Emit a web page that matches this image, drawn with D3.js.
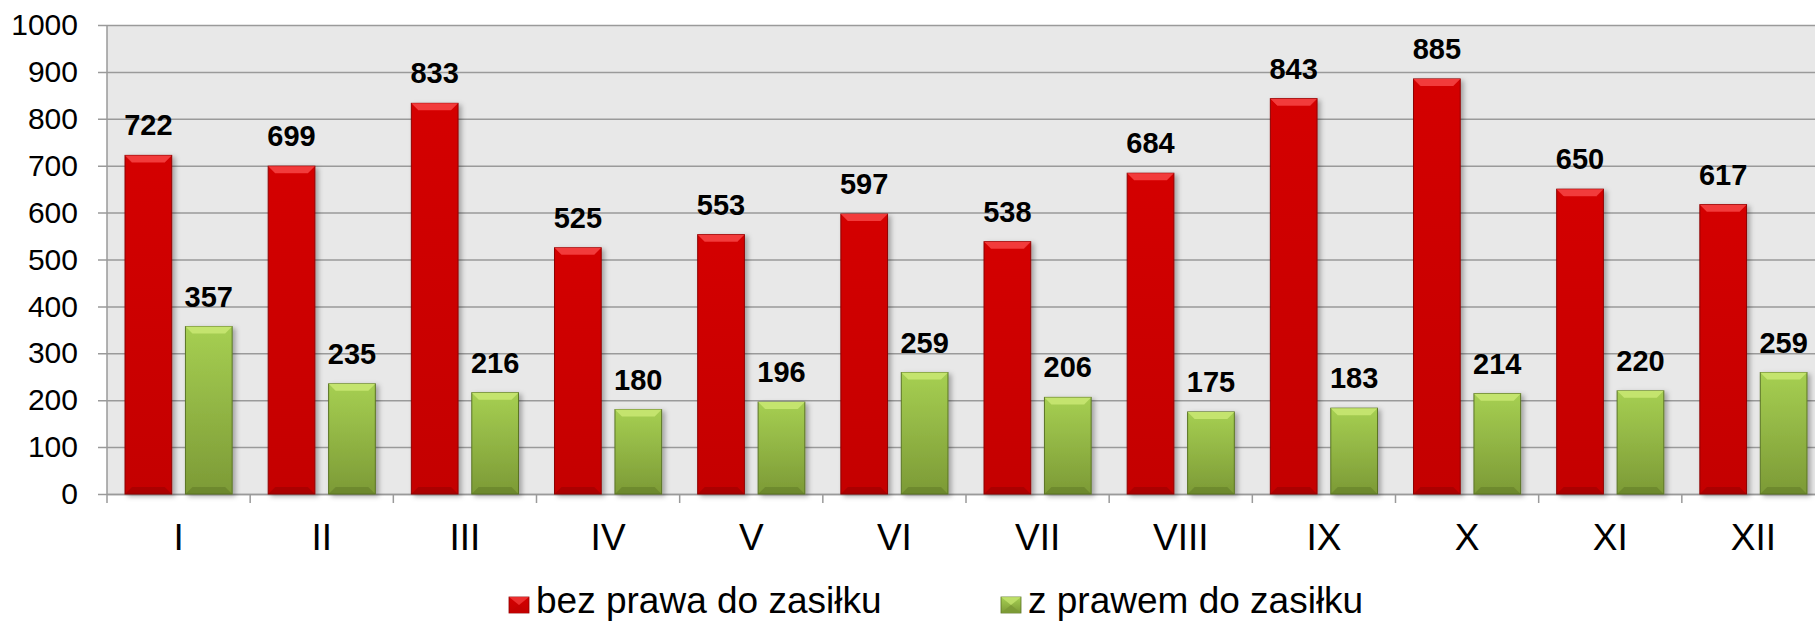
<!DOCTYPE html>
<html>
<head>
<meta charset="utf-8">
<script src="https://cdn.jsdelivr.net/npm/d3@7"></script>
<style>
	body { margin: 0; background: #fff; }
	text { font-family: 'Liberation Sans', Arial, sans-serif; fill: #000; }
</style>
</head>
<body>
<svg id="svg_elem"></svg>
<script>
//define data
const months = ['I', 'II', 'III', 'IV', 'V', 'VI', 'VII', 'VIII', 'IX', 'X', 'XI', 'XII'];
const bezPrawa = [722, 699, 833, 525, 553, 597, 538, 684, 843, 885, 650, 617];
const zPrawem = [357, 235, 216, 180, 196, 259, 206, 175, 183, 214, 220, 259];
const seriesNames = ['bez prawa do zasiłku', 'z prawem do zasiłku'];
const yTicks = [0, 100, 200, 300, 400, 500, 600, 700, 800, 900, 1000];

//define constants
const svgWidth = 1815;
const svgHeight = 624;
const plotLeft = 107;
const plotTop = 25;
const plotBottom = 494;
const plotWidth = 1718;
const bevel = 7;

//build rows for the bars
var data = months.map((m, i) => ({month: m, values: [bezPrawa[i], zPrawem[i]]}));

//define colours: [top face, body start, body end, outline]
const colours = [
	{top: '#f23a3a', light: '#d40000', dark: '#c40000', edge: '#8e0000', key: 'red'},
	{top: '#c4e46e', light: '#a6cf52', dark: '#7c9a36', edge: '#5a7424', key: 'green'}
];

var svg = d3.select('#svg_elem')
	.attr('width', svgWidth)
	.attr('height', svgHeight);

//gradients and shadow
var defs = svg.append('defs');
colours.forEach(c => {
	var g = defs.append('linearGradient')
		.attr('id', `grad_${c.key}`)
		.attr('x1', 0).attr('y1', 0).attr('x2', 0).attr('y2', 1);
	g.append('stop').attr('offset', '0%').attr('stop-color', c.light);
	g.append('stop').attr('offset', '100%').attr('stop-color', c.dark);
});
defs.append('filter')
	.attr('id', 'shadow')
	.attr('x', '-20%').attr('y', '-10%').attr('width', '150%').attr('height', '130%')
	.append('feDropShadow')
		.attr('dx', 3).attr('dy', 2).attr('stdDeviation', 2.5)
		.attr('flood-color', '#000').attr('flood-opacity', 0.3);

//define scales
var xScale = d3.scaleBand()
	.domain(months)
	.range([plotLeft, plotLeft + plotWidth]);

var xInner = d3.scaleBand()
	.domain([0, 1])
	.range([0, xScale.bandwidth()])
	.paddingInner(0.227)
	.paddingOuter(0.298);

var yScale = d3.scaleLinear()
	.domain([0, 1000])
	.range([plotBottom, plotTop]);

//plot background
svg.append('rect')
	.attr('x', plotLeft)
	.attr('y', plotTop)
	.attr('width', plotWidth)
	.attr('height', plotBottom - plotTop)
	.attr('fill', '#e8e8e8');

//y axis with gridlines
var yAxis = svg.append('g')
	.attr('transform', `translate(${plotLeft}, 0)`)
	.call(d3.axisLeft(yScale).tickValues(yTicks).tickFormat(d3.format('d')).tickSize(-plotWidth).tickPadding(29));
yAxis.select('.domain').remove();
yAxis.selectAll('.tick line')
	.attr('x1', -9)
	.attr('stroke', '#9a9a9a')
	.attr('stroke-width', 1.5);
yAxis.selectAll('.tick text')
	.style('font-size', '30px')
	.style('font-family', "'Liberation Sans', Arial, sans-serif");

//y axis line
svg.append('line')
	.attr('x1', plotLeft).attr('x2', plotLeft)
	.attr('y1', plotTop).attr('y2', plotBottom + 9)
	.attr('stroke', '#9a9a9a')
	.attr('stroke-width', 1.5);

//x axis
var xAxis = svg.append('g')
	.attr('transform', `translate(0, ${plotBottom})`)
	.call(d3.axisBottom(xScale).tickSize(0).tickPadding(30));
xAxis.select('.domain')
	.attr('stroke', '#9a9a9a')
	.attr('stroke-width', 1.5);
xAxis.selectAll('.tick text')
	.style('font-size', '37px')
	.style('font-family', "'Liberation Sans', Arial, sans-serif");

//x tick marks between categories
svg.append('g').selectAll('line')
	.data(months.slice(1))
	.enter()
	.append('line')
		.attr('x1', d => xScale(d)).attr('x2', d => xScale(d))
		.attr('y1', plotBottom).attr('y2', plotBottom + 9)
		.attr('stroke', '#9a9a9a')
		.attr('stroke-width', 1.5);

//bars
var groups = svg.append('g').selectAll('.month')
	.data(data)
	.enter()
	.append('g')
		.classed('month', true)
		.attr('transform', d => `translate(${xScale(d.month)}, 0)`);

var bars = groups.selectAll('.bar')
	.data(d => d.values.map((v, i) => ({value: v, series: i})))
	.enter()
	.append('g')
		.classed('bar', true);

drawBars(bars, xInner, yScale);

//value labels
groups.selectAll('.label')
	.data(d => d.values.map((v, i) => ({value: v, series: i})))
	.enter()
	.append('text')
		.classed('label', true)
		.attr('x', d => xInner(d.series) + xInner.bandwidth() / 2)
		.attr('y', d => yScale(d.value) - 20)
		.attr('text-anchor', 'middle')
		.style('font-size', '29px')
		.style('font-weight', 'bold')
		.text(d => d.value);

//legend
var legendX = [509, 1001];
var legend = svg.append('g').selectAll('.legend')
	.data(seriesNames)
	.enter()
	.append('g')
		.classed('legend', true)
		.attr('transform', (d, i) => `translate(${legendX[i]}, 597)`);

legend.each(function(d, i){
	var c = colours[i];
	var sel = d3.select(this);
	sel.append('rect')
		.attr('width', 20).attr('height', 16)
		.attr('fill', `url(#grad_${c.key})`)
		.attr('stroke', c.edge).attr('stroke-width', 0.8);
	sel.append('polygon')
		.attr('points', '0,0 20,0 10,8')
		.attr('fill', c.top)
		.attr('opacity', 0.8);
	sel.append('polygon')
		.attr('points', '0,16 20,16 10,8')
		.attr('fill', c.dark)
		.attr('opacity', 0.9);
});

legend.append('text')
	.attr('x', 27)
	.attr('y', 16)
	.style('font-size', '37px')
	.text(d => d);

//function draw bevelled bars
function drawBars(sel, x, y){
	sel.attr('filter', 'url(#shadow)');
	sel.append('rect')
		.attr('x', d => x(d.series))
		.attr('y', d => y(d.value))
		.attr('width', x.bandwidth())
		.attr('height', d => y(0) - y(d.value))
		.attr('fill', d => `url(#grad_${colours[d.series].key})`)
		.attr('stroke', d => colours[d.series].edge)
		.attr('stroke-width', 1);
	//top bevel
	sel.append('polygon')
		.attr('points', d => {
			let x0 = x(d.series), x1 = x0 + x.bandwidth(), y0 = y(d.value);
			return `${x0},${y0} ${x1},${y0} ${x1 - bevel},${y0 + bevel} ${x0 + bevel},${y0 + bevel}`;
		})
		.attr('fill', d => colours[d.series].top);
	//bottom bevel
	sel.append('polygon')
		.attr('points', d => {
			let x0 = x(d.series), x1 = x0 + x.bandwidth(), y0 = y(0);
			return `${x0},${y0} ${x1},${y0} ${x1 - bevel},${y0 - bevel} ${x0 + bevel},${y0 - bevel}`;
		})
		.attr('fill', d => colours[d.series].edge)
		.attr('opacity', 0.45);
}
</script>
</body>
</html>
